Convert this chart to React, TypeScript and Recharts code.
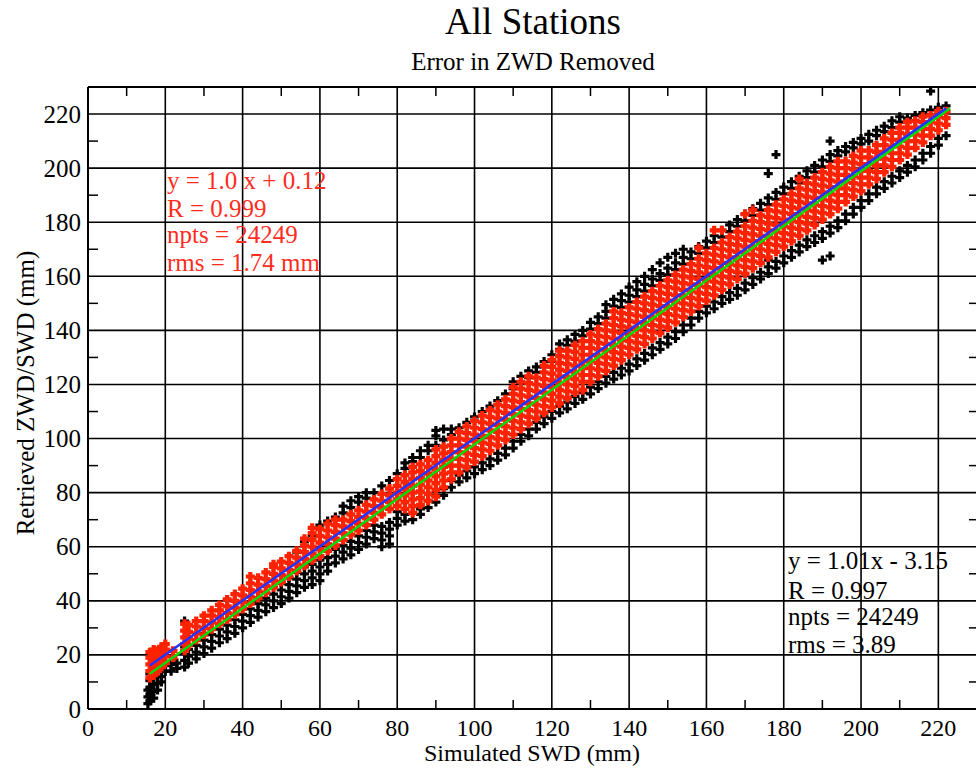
import { ScatterChart, Scatter, XAxis, YAxis, CartesianGrid } from 'recharts'

const FONT = '"Liberation Serif", "Times New Roman", serif'

// each row: [x, y, y, y...]
const redCols: number[][] = [
  [16, 11.5, 14, 16.5, 19, 21], [17, 12.5, 15, 17.5, 20, 22], [18, 14, 16.5, 19, 21.5],
  [19, 15.5, 18, 20.5, 23], [20, 17, 19.5, 22, 24], [22, 19, 21.5],
  [25, 21.5, 24, 26.5, 29, 31.5], [26, 23.5, 26, 28.5, 31], [28, 25.5, 28, 30.5, 32.5],
  [30, 27.5, 30, 32.5, 34.5], [32, 29.5, 32, 34.5, 36.5], [34, 31.5, 34, 36.5, 38.5],
  [36, 33, 35.5, 38, 40.5], [38, 35, 37.5, 40, 42.5], [40, 37, 39.5, 42, 44.5],
  [42, 39, 41.5, 44, 46.5, 49], [44, 41, 43.5, 46, 48.5], [46, 43, 45.5, 48, 50.5],
  [48, 45, 47.5, 50, 52.5, 53.5], [50, 47, 49.5, 52, 54.5], [52, 49, 51.5, 54, 56.5],
  [54, 51, 53.5, 56, 58.5], [56, 53, 55.5, 58, 60.5, 63], [58, 55, 57.5, 60, 62.5, 65, 67],
  [60, 56.5, 59, 61.5, 64, 66.5], [62, 58.5, 61, 63.5, 66, 68.5], [64, 60.5, 63, 65.5, 68, 70],
  [66, 62.5, 65, 67.5, 70], [68, 64.5, 67, 69.5, 72], [70, 66, 68.5, 71, 73.5],
  [72, 68, 70.5, 73, 75.5], [74, 70, 72.5, 75, 77.5], [76, 72, 74.5, 77, 79.5],
  [78, 74, 76.5, 79, 81.5], [80, 75, 77.5, 80, 82.5, 85], [82, 74, 76.5, 79, 81.5, 84, 86.5],
  [84, 72.5, 75, 77.5, 80, 82.5, 85, 87.5, 89.5], [86, 75.5, 78, 80.5, 83, 85.5, 88, 90.5],
  [88, 77, 79.5, 82, 84.5, 87, 89.5, 92], [90, 78.5, 81, 83.5, 86, 88.5, 91, 93.5, 96],
  [92, 82, 84.5, 87, 89.5, 92, 94.5, 97], [94, 85, 87.5, 90, 92.5, 95, 97.5, 100],
  [96, 87.5, 90, 92.5, 95, 97.5, 100, 102.5], [98, 89.5, 92, 94.5, 97, 99.5, 102, 104.5],
  [100, 91.5, 94, 96.5, 99, 101.5, 104, 106.5], [102, 93.5, 96, 98.5, 101, 103.5, 106, 108.5],
  [104, 95.5, 98, 100.5, 103, 105.5, 108, 110.5], [106, 97.5, 100, 102.5, 105, 107.5, 110, 112.5],
  [108, 99.5, 102, 104.5, 107, 109.5, 112, 114.5], [110, 101.5, 104, 106.5, 109, 111.5, 114, 116.5, 119],
  [112, 103.5, 106, 108.5, 111, 113.5, 116, 118.5, 121], [114, 105.5, 108, 110.5, 113, 115.5, 118, 120.5, 123],
  [116, 107.5, 110, 112.5, 115, 117.5, 120, 122.5], [118, 109.5, 112, 114.5, 117, 119.5, 122, 124.5, 127],
  [120, 111.5, 114, 116.5, 119, 121.5, 124, 126.5, 129], [122, 113, 115.5, 118, 120.5, 123, 125.5, 128, 130.5, 132.5],
  [124, 115, 117.5, 120, 122.5, 125, 127.5, 130, 132.5], [126, 117, 119.5, 122, 124.5, 127, 129.5, 132, 134.5],
  [128, 118, 121, 123.5, 126, 128.5, 131, 133.5, 136], [130, 121, 123.5, 126, 128.5, 131, 133.5, 136, 138.5],
  [132, 123, 125.5, 128, 130.5, 133, 135.5, 138, 140.5], [134, 125, 127.5, 130, 132.5, 135, 137.5, 140, 142.5],
  [136, 127, 129.5, 132, 134.5, 137, 139.5, 142, 144.5, 147], [138, 129, 131.5, 134, 136.5, 139, 141.5, 144, 146.5],
  [140, 131, 133.5, 136, 138.5, 141, 143.5, 146, 148.5], [142, 133, 135.5, 138, 140.5, 143, 145.5, 148, 150.5],
  [144, 135, 137.5, 140, 142.5, 145, 147.5, 150, 152.5], [146, 137, 139.5, 142, 144.5, 147, 149.5, 152, 154.5],
  [148, 139, 141.5, 144, 146.5, 149, 151.5, 154, 156.5], [150, 141, 143.5, 146, 148.5, 151, 153.5, 156, 158.5],
  [152, 143, 145.5, 148, 150.5, 153, 155.5, 158, 160.5], [154, 145, 147.5, 150, 152.5, 155, 157.5, 160, 162.5],
  [156, 147, 149.5, 152, 154.5, 157, 159.5, 162, 164.5], [158, 149, 151.5, 154, 156.5, 159, 161.5, 164, 166.5, 170.5],
  [160, 151, 153.5, 156, 158.5, 161, 163.5, 166, 168.5], [162, 153, 155.5, 158, 160.5, 163, 165.5, 168, 170.5, 177],
  [164, 155, 157.5, 160, 162.5, 165, 167.5, 170, 172.5, 177], [166, 157, 159.5, 162, 164.5, 167, 169.5, 172, 174.5],
  [168, 159, 161.5, 164, 166.5, 169, 171.5, 174, 176.5], [170, 161, 163.5, 166, 168.5, 171, 173.5, 176, 178.5, 183],
  [172, 163, 165.5, 168, 170.5, 173, 175.5, 178, 180.5, 184.5], [174, 165, 167.5, 170, 172.5, 175, 177.5, 180, 182.5],
  [176, 167, 169.5, 172, 174.5, 177, 179.5, 182, 184.5], [178, 169, 171.5, 174, 176.5, 179, 181.5, 184, 186.5],
  [180, 171, 173.5, 176, 178.5, 181, 183.5, 186, 188.5], [182, 173, 175.5, 178, 180.5, 183, 185.5, 188, 190.5],
  [184, 175, 177.5, 180, 182.5, 185, 187.5, 190, 192.5, 196], [186, 177, 179.5, 182, 184.5, 187, 189.5, 192, 194.5],
  [188, 179, 181.5, 184, 186.5, 189, 191.5, 194, 196.5], [190, 181, 183.5, 186, 188.5, 191, 193.5, 196, 198.5],
  [192, 183, 185.5, 188, 190.5, 193, 195.5, 198, 200.5], [194, 185, 187.5, 190, 192.5, 195, 197.5, 200, 202.5],
  [196, 187.5, 190, 192.5, 195, 197.5, 200, 202.5], [198, 189.5, 192, 194.5, 197, 199.5, 202, 204.5],
  [200, 191.5, 194, 196.5, 199, 201.5, 204, 206.5], [202, 194, 196.5, 199, 201.5, 204, 206.5],
  [204, 196, 198.5, 201, 203.5, 206, 208.5], [206, 198.5, 201, 203.5, 206, 208.5, 211],
  [208, 200.5, 203, 205.5, 208, 210.5, 213], [210, 203, 205.5, 208, 210.5, 213, 215],
  [212, 205, 207.5, 210, 212.5, 215, 217], [214, 207.5, 210, 212.5, 215, 217.5],
  [216, 209.5, 212, 214.5, 217, 219], [218, 212, 214.5, 217, 219.5], [220, 214, 216.5, 219, 221],
  [222, 216, 218.5, 221],
]

const blackCols: number[][] = [
  [15.5, 2, 4.5, 7], [16, 3, 5.5, 8, 10.5, 13], [17, 4, 6.5, 9, 11.5], [18, 7, 9.5, 12],
  [19, 10, 12, 14], [20, 14, 16], [21.5, 14, 16.5], [23, 15, 17], [25, 15.5, 18, 20.5, 23, 32.5],
  [26, 17, 19.5, 22], [28, 18.5, 21, 23.5], [30, 20.5, 23, 25.5, 28], [32, 22.5, 25, 27.5],
  [34, 24.5, 27, 29.5], [36, 26, 28.5, 31], [38, 28, 30.5, 33], [40, 30, 32.5, 35],
  [42, 32, 34.5, 37], [44, 34, 36.5, 39, 41], [46, 36, 38.5, 41], [48, 37.5, 40, 42.5],
  [50, 39, 41.5, 44, 46.5], [52, 41, 43.5, 46, 48.5], [54, 43, 45.5, 48, 50.5, 58],
  [56, 45, 47.5, 50, 52.5, 62], [58, 46, 48.5, 51, 53.5, 64], [60, 47.5, 50, 52.5, 55, 68],
  [62, 51, 53.5, 56, 69.5], [64, 54, 56.5, 59, 71], [66, 55.5, 58, 60.5, 72.5, 75],
  [68, 57, 59.5, 62, 74.5, 77], [70, 59, 61.5, 64, 76.5, 78.5], [72, 61, 63.5, 66, 78, 80],
  [74, 63, 65.5, 68, 80], [76, 60, 62.5, 65, 67.5, 82.5], [78, 61, 64, 66.5, 69, 84.5],
  [80, 68, 70.5, 73, 87], [82, 69.5, 72, 89, 91], [84, 70, 91.5, 93], [86, 72, 74, 93, 95.5],
  [88, 74.5, 77, 95.5, 97.5], [90, 76.5, 79, 97.5, 101, 103], [92, 79, 81.5, 99.5, 103.5],
  [94, 82, 84.5, 101.5, 103.5], [96, 84, 86.5, 104], [98, 85.5, 88, 106], [100, 87, 89.5, 108],
  [102, 88.5, 91, 110], [104, 90, 92.5, 112], [106, 92, 94.5, 114], [108, 94, 96.5, 116.5],
  [110, 96.5, 99, 118.5, 121], [112, 99, 101.5, 120.5, 123], [114, 101, 103.5, 122.5, 125],
  [116, 103.5, 106, 124.5, 126.5], [118, 105.5, 108, 126.5, 128.5], [120, 107.5, 110, 128.5, 131],
  [122, 109.5, 112, 133, 135], [124, 111, 113.5, 134.5, 136.5], [126, 113, 115.5, 136, 138.5],
  [128, 114.5, 117, 138, 140], [130, 116.5, 119, 140.5, 143], [132, 118.5, 121, 142.5, 145],
  [134, 120.5, 123, 144.5, 147, 149.5], [136, 122, 124.5, 149, 151.5], [138, 123.5, 126, 148.5, 151, 153.5],
  [140, 125, 127.5, 150.5, 153, 156], [142, 127, 129.5, 152.5, 155, 158], [144, 129, 131.5, 154.5, 157, 160],
  [146, 131, 133.5, 156.5, 159, 162.5], [148, 133, 135.5, 158.5, 161, 165], [150, 135, 137.5, 160.5, 163, 167],
  [152, 137, 139.5, 162.5, 165, 168.5], [154, 139.5, 142, 164.5, 167, 170], [156, 142, 144.5, 166.5, 169],
  [158, 144.5, 147, 168.5, 171], [160, 146.5, 149, 170.5, 173], [162, 148, 150.5, 172.5, 175],
  [164, 150, 152.5, 174.5, 177], [166, 151.5, 154, 176.5, 179], [168, 153, 155.5, 178.5, 181],
  [170, 155, 157.5, 180.5, 183], [172, 157, 159.5, 182.5, 185], [174, 159, 161.5, 184.5, 187],
  [176, 161, 163.5, 166, 186.5, 189, 198], [178, 163, 165.5, 188.5, 191, 205], [180, 165, 167.5, 190.5, 193],
  [182, 167, 169.5, 192.5, 195], [184, 169, 171.5, 194.5, 197], [186, 171, 173.5, 196.5, 199],
  [188, 172.5, 175, 198.5, 201], [190, 166, 174, 176.5, 200.5, 203], [192, 167.5, 176, 178.5, 202.5, 205, 210],
  [194, 178, 180.5, 204.5, 206.5], [196, 180.5, 183, 206, 208], [198, 183, 185.5, 207.5, 209.5],
  [200, 185.5, 188, 209, 211], [202, 188, 190.5, 210, 212.5], [204, 190.5, 193, 212, 214],
  [206, 192.5, 195, 213.5, 215.5], [208, 194.5, 197, 215, 217.5], [210, 196.5, 199, 217, 219],
  [212, 198.5, 201, 218.5], [214, 200.5, 203, 219.5], [216, 203, 205.5, 220.5],
  [218, 205.5, 208, 221.5, 228.5], [220, 208.5, 211, 222.5], [222, 212, 223],
]

// fitted lines, end points
const blueFit = [{ x: 16, y: 16.1 }, { x: 222, y: 222.1 }]
const greenFit = [{ x: 16, y: 13 }, { x: 223, y: 222.1 }]

const axisTicks = [0, 10, 20, 30, 40, 50, 60, 70, 80, 90, 100, 110, 120, 130, 140, 150, 160, 170, 180, 190, 200, 210, 220]
const gridValues = [20, 40, 60, 80, 100, 120, 140, 160, 180, 200, 220]

const redStats = ['y = 1.0 x + 0.12', 'R = 0.999', 'npts = 24249', 'rms = 1.74 mm']
const blackStats = ['y = 1.01x - 3.15', 'R = 0.997', 'npts = 24249', 'rms = 3.89']

const toPoints = (cols: number[][]) =>
  cols.flatMap(([x, ...ys]) => ys.map((y) => ({ x, y })))

const redPoints = toPoints(redCols)
const blackPoints = toPoints(blackCols)

const plus = (color: string, w: number) => (props: any) => {
  const { cx, cy } = props
  if (cx == null || cy == null) return <g />
  return (
    <path
      d={`M${cx - 4.5},${cy}H${cx + 4.5}M${cx},${cy - 4.5}V${cy + 4.5}`}
      stroke={color}
      strokeWidth={w}
    />
  )
}

const noDot = () => <g />

const BottomTick = ({ x, y, payload }: any) => {
  const v = payload.value
  if (v % 20) return <line x1={x} x2={x} y1={y} y2={y - 9} stroke="#000" strokeWidth={1.5} />
  return (
    <text x={x} y={y + 27} textAnchor="middle" fontSize={24} fontFamily={FONT} fill="#000">
      {v}
    </text>
  )
}

const LeftTick = ({ x, y, payload }: any) => {
  const v = payload.value
  if (v % 20) return <line x1={x} x2={x + 10} y1={y} y2={y} stroke="#000" strokeWidth={1.5} />
  return (
    <text x={x - 7} y={y + 8.5} textAnchor="end" fontSize={25} fontFamily={FONT} fill="#000">
      {v}
    </text>
  )
}

const TopTick = ({ x, y, payload }: any) =>
  payload.value % 20 ? <line x1={x} x2={x} y1={y} y2={y + 9} stroke="#000" strokeWidth={1.5} /> : <g />

const RightTick = ({ x, y, payload }: any) =>
  payload.value % 20 ? <line x1={x} x2={x - 8} y1={y} y2={y} stroke="#000" strokeWidth={1.5} /> : <g />

const axisLine = { stroke: '#000', strokeWidth: 2 }

export default function App() {
  return (
    <div style={{ position: 'absolute', left: 0, top: 0, width: 976, height: 769, overflow: 'hidden', background: '#fff' }}>
      <ScatterChart width={980} height={769} margin={{ top: 0, right: 0, bottom: 0, left: 0 }}>
        <CartesianGrid
          stroke="#000"
          strokeWidth={1.6}
          horizontalValues={gridValues}
          verticalValues={gridValues}
        />
        <XAxis
          type="number"
          dataKey="x"
          domain={[0, 230]}
          ticks={axisTicks}
          interval={0}
          height={60}
          tickSize={0}
          tickMargin={0}
          tick={<BottomTick />}
          axisLine={axisLine}
          allowDataOverflow
        />
        <XAxis
          xAxisId="top"
          orientation="top"
          type="number"
          dataKey="x"
          domain={[0, 230]}
          ticks={axisTicks}
          interval={0}
          height={87}
          tickSize={0}
          tickMargin={0}
          tick={<TopTick />}
          axisLine={axisLine}
          allowDataOverflow
        />
        <YAxis
          type="number"
          dataKey="y"
          domain={[0, 230]}
          ticks={axisTicks}
          interval={0}
          width={88}
          tickSize={0}
          tickMargin={0}
          tick={<LeftTick />}
          axisLine={axisLine}
          allowDataOverflow
        />
        <YAxis
          yAxisId="right"
          orientation="right"
          type="number"
          dataKey="y"
          domain={[0, 230]}
          ticks={axisTicks}
          interval={0}
          width={3}
          tickSize={0}
          tickMargin={0}
          tick={<RightTick />}
          axisLine={axisLine}
          allowDataOverflow
        />
        <Scatter data={blackPoints} shape={plus('#000', 3.2)} isAnimationActive={false} />
        <Scatter data={redPoints} shape={plus('#ff2200', 4.2)} isAnimationActive={false} />
        <Scatter
          data={greenFit}
          shape={noDot}
          line={{ stroke: '#00dd00', strokeWidth: 2.5 }}
          isAnimationActive={false}
        />
        <Scatter
          data={blueFit}
          shape={noDot}
          line={{ stroke: '#2233ff', strokeWidth: 2.5 }}
          isAnimationActive={false}
        />
      </ScatterChart>
      <svg
        width={976}
        height={769}
        style={{ position: 'absolute', left: 0, top: 0, pointerEvents: 'none' }}
        fontFamily={FONT}
      >
        <text x={533} y={34} textAnchor="middle" fontSize={37} fill="#000">All Stations</text>
        <text x={533} y={70} textAnchor="middle" fontSize={25} fill="#000">Error in ZWD Removed</text>
        <text x={532} y={761} textAnchor="middle" fontSize={24} fill="#000">Simulated SWD (mm)</text>
        <text x={34} y={393} textAnchor="middle" fontSize={25} fill="#000" transform="rotate(-90 34 393)">
          Retrieved ZWD/SWD (mm)
        </text>
        {redStats.map((s, i) => (
          <text key={s} x={167} y={[189, 217, 243, 271][i]} fontSize={25} fill="#ff2d1e">{s}</text>
        ))}
        {blackStats.map((s, i) => (
          <text key={s} x={788} y={[569, 599, 625, 653][i]} fontSize={25} fill="#000">{s}</text>
        ))}
      </svg>
    </div>
  )
}
